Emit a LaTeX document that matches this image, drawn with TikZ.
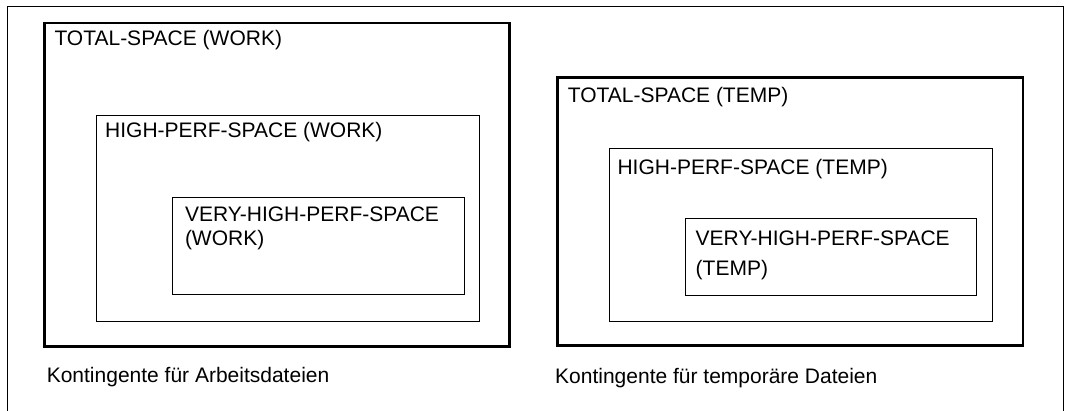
\documentclass[tikz,border=0pt]{standalone}
\usepackage{fontspec}
\setmainfont{Liberation Sans}
\begin{document}
\begin{tikzpicture}[x=1pt,y=-1pt,
  frameline/.style={draw=black,line width=1pt},
  totalbox/.style={draw=black,line width=2.6pt},
  innerbox/.style={draw=black,line width=1pt},
  lbl/.style={anchor=base west,inner sep=0pt,outer sep=0pt,align=left,
              font=\fontsize{21}{24.5}\selectfont},
  lbltemp/.style={lbl,font=\fontsize{21}{29.5}\selectfont}]
\useasboundingbox (0,0) rectangle (1068,411);
% outer frame (bottom edge lies below the visible area)
\coordinate (fbl) at (7,430);
\coordinate (ftl) at (7,6.5);
\coordinate (ftr) at (1063.7,6.5);
\coordinate (fbr) at (1063.7,430);
\draw[frameline] (fbl) -- (ftl) -- (ftr) -- (fbr);
% left group
\draw[totalbox] (44.5,23) rectangle (509.5,346.5);
\draw[innerbox] (96.3,115.3) rectangle (479.3,321.5);
\draw[innerbox] (172.3,197.5) rectangle (464.3,294.5);
\node[lbl] (tw) at (54.5,45.7) {TOTAL-SPACE (WORK)};
\node[lbl] (hw) at (105.2,137.7) {HIGH-PERF-SPACE (WORK)};
\node[lbl] (vw) at (185,245.8) {VERY-HIGH-PERF-SPACE\\(WORK)};
\node[lbl] (cw) at (46.8,382.7) {Kontingente für Arbeitsdateien};
% right group
\draw[totalbox] (557.5,77.5) rectangle (1023,345.5);
\draw[innerbox] (609.3,148.3) rectangle (992.3,321.7);
\draw[innerbox] (685.3,218.7) rectangle (976.3,296);
\node[lbl] (tt) at (567.8,102.7) {TOTAL-SPACE (TEMP)};
\node[lbl] (ht) at (617.5,175) {HIGH-PERF-SPACE (TEMP)};
\node[lbltemp] (vt) at (695.7,275.2) {VERY-HIGH-PERF-SPACE\\(TEMP)};
\node[lbl] (ct) at (555.2,383.3) {Kontingente für temporäre Dateien};
\end{tikzpicture}
\end{document}
